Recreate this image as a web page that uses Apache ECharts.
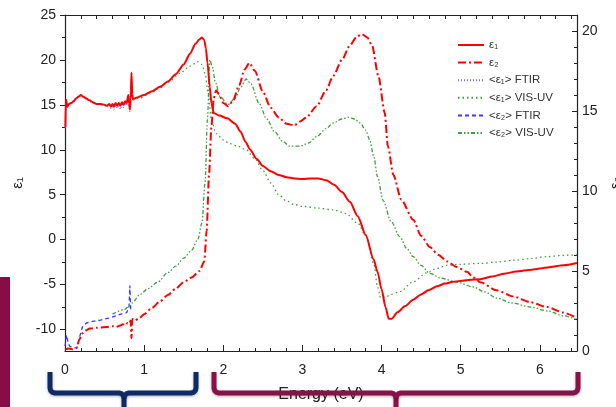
<!DOCTYPE html>
<html>
<head>
<meta charset="utf-8">
<script src="https://cdn.jsdelivr.net/npm/echarts@6/dist/echarts.min.js"></script>
<style>html,body{margin:0;padding:0;background:#fff;}#c{width:616px;height:407px;}</style>
</head>
<body>
<div id="c"></div>
<script>
// ---- tick labels ----
const xTickLabels = [0, 1, 2, 3, 4, 5, 6];
const leftTickLabels = [-10, -5, 0, 5, 10, 15, 20, 25];
const rightTickLabels = [0, 5, 10, 15, 20];
const legendNames = ['ε₁', 'ε₂', '<ε₁> FTIR', '<ε₁> VIS-UV', '<ε₂> FTIR', '<ε₂> VIS-UV'];

// ---- series values [energy eV, value] ----
const eps1 = [[0.005,12.5],[0.012,15.6],[0.03,14.8],[0.05,15.1],[0.08,15.2],[0.11,15.4],[0.14,15.7],[0.17,15.9],[0.2,16.1],[0.23,15.9],[0.27,15.7],[0.31,15.5],[0.35,15.3],[0.4,15.1],[0.45,15.1],[0.5,15.0],[0.53,14.9],[0.56,15.1],[0.58,14.8],[0.6,15.1],[0.62,14.8],[0.64,15.2],[0.66,14.9],[0.68,15.2],[0.7,14.9],[0.72,15.3],[0.74,15.0],[0.76,15.4],[0.78,15.2],[0.8,16.1],[0.81,15.2],[0.82,14.5],[0.83,15.6],[0.84,18.6],[0.85,16.2],[0.86,15.6],[0.9,15.8],[1.0,16.1],[1.1,16.5],[1.2,17.0],[1.3,17.6],[1.4,18.4],[1.5,19.5],[1.58,20.7],[1.65,21.8],[1.7,22.3],[1.73,22.5],[1.76,22.2],[1.78,21.3],[1.8,19.7],[1.83,17.0],[1.85,15.2],[1.88,14.1],[1.95,13.8],[2.05,13.5],[2.15,12.9],[2.22,12.0],[2.28,10.9],[2.34,10.0],[2.42,9.0],[2.5,8.2],[2.6,7.6],[2.7,7.2],[2.8,6.95],[2.9,6.8],[3.0,6.75],[3.1,6.8],[3.2,6.8],[3.3,6.6],[3.4,6.1],[3.5,5.3],[3.6,4.2],[3.7,2.6],[3.8,0.5],[3.9,-2.2],[3.95,-3.6],[4.0,-5.5],[4.05,-7.5],[4.09,-8.8],[4.13,-8.8],[4.2,-8.1],[4.3,-7.4],[4.4,-6.7],[4.5,-6.1],[4.6,-5.6],[4.7,-5.2],[4.8,-4.9],[4.9,-4.7],[5.0,-4.6],[5.1,-4.5],[5.25,-4.4],[5.4,-4.1],[5.55,-3.8],[5.7,-3.55],[5.9,-3.35],[6.1,-3.1],[6.3,-2.85],[6.47,-2.6]];

const eps2 = [[0.0,0.1],[0.05,0.15],[0.1,0.1],[0.15,0.2],[0.18,0.7],[0.22,1.1],[0.27,1.3],[0.31,1.4],[0.4,1.45],[0.52,1.5],[0.6,1.55],[0.65,1.5],[0.7,1.6],[0.73,1.67],[0.76,1.6],[0.79,1.75],[0.81,1.7],[0.83,1.9],[0.84,0.8],[0.85,2.0],[0.88,1.9],[0.94,2.05],[1.0,2.3],[1.1,2.7],[1.2,3.1],[1.3,3.5],[1.4,3.9],[1.5,4.3],[1.6,4.6],[1.7,5.0],[1.76,5.6],[1.79,7.5],[1.82,11],[1.85,14],[1.88,15.8],[1.91,16.3],[1.95,16.0],[2.0,15.5],[2.06,15.3],[2.12,15.6],[2.2,16.6],[2.27,17.6],[2.33,18.0],[2.4,17.5],[2.5,16.2],[2.6,15.2],[2.7,14.6],[2.8,14.2],[2.9,14.1],[2.97,14.35],[3.05,14.6],[3.18,15.3],[3.3,16.3],[3.39,17.2],[3.5,18.2],[3.6,19.1],[3.68,19.6],[3.75,19.8],[3.82,19.6],[3.88,19.1],[3.96,17.2],[4.04,14.9],[4.08,12.8],[4.15,11.0],[4.25,9.45],[4.4,8.2],[4.5,7.2],[4.61,6.5],[4.72,6.0],[4.83,5.6],[4.95,5.25],[5.08,4.95],[5.16,4.6],[5.25,4.3],[5.45,3.8],[5.67,3.4],[5.88,3.05],[6.09,2.75],[6.3,2.4],[6.47,2.05]];

const eps1FTIR = [[0.003,12.4],[0.01,15.4],[0.03,14.9],[0.05,15.0],[0.08,15.3],[0.11,15.5],[0.14,15.7],[0.17,16.0],[0.2,16.0],[0.23,15.9],[0.27,15.6],[0.31,15.4],[0.35,15.2],[0.4,15.1],[0.45,15.0],[0.5,14.9],[0.53,14.8],[0.56,15.0],[0.58,14.6],[0.6,15.0],[0.62,14.5],[0.64,15.1],[0.66,14.6],[0.68,15.0],[0.7,14.5],[0.72,15.2],[0.74,14.7],[0.76,15.2],[0.78,14.9],[0.8,15.8],[0.81,15.0],[0.82,14.2],[0.83,15.4],[0.84,18.3],[0.85,15.9],[0.86,15.5]];

const eps2FTIR = [[0.0,0.3],[0.02,1.0],[0.04,0.5],[0.06,0.3],[0.1,0.2],[0.15,0.2],[0.18,0.8],[0.22,1.5],[0.27,1.75],[0.35,1.85],[0.44,1.92],[0.55,2.05],[0.65,2.2],[0.73,2.35],[0.78,2.4],[0.81,2.8],[0.82,4.1],[0.83,2.6],[0.85,2.6]];

const eps1VIS = [[0.85,15.6],[0.94,15.75],[1.1,16.4],[1.2,16.9],[1.3,17.5],[1.45,18.5],[1.58,19.3],[1.68,19.8],[1.73,19.5],[1.77,18.5],[1.81,16.3],[1.85,13.3],[1.91,11.8],[2.0,11.1],[2.08,10.7],[2.18,10.4],[2.29,10.0],[2.4,9.0],[2.5,7.7],[2.6,6.3],[2.7,5.0],[2.8,4.3],[2.9,3.9],[3.0,3.7],[3.2,3.5],[3.4,3.3],[3.55,2.9],[3.7,1.8],[3.8,0.5],[3.9,-2.6],[3.95,-5.3],[3.99,-6.5],[4.05,-6.4],[4.12,-6.1],[4.23,-5.8],[4.4,-4.7],[4.57,-3.7],[4.7,-3.2],[4.83,-2.85],[5.0,-2.75],[5.25,-2.65],[5.45,-2.5],[5.67,-2.3],[5.9,-2.1],[6.09,-1.9],[6.3,-1.75],[6.47,-1.7]];

const eps2VIS = [[0.6,2.3],[0.75,2.6],[0.85,3.0],[0.94,3.5],[1.05,3.9],[1.17,4.3],[1.3,4.9],[1.4,5.3],[1.5,5.8],[1.6,6.3],[1.68,7.0],[1.73,8.0],[1.77,10.5],[1.8,14.5],[1.83,18.2],[1.86,17.8],[1.9,16.8],[1.96,15.9],[2.06,15.4],[2.15,15.8],[2.22,16.5],[2.29,17.0],[2.35,16.7],[2.45,15.5],[2.55,14.5],[2.65,13.7],[2.75,13.1],[2.84,12.8],[2.97,12.8],[3.08,13.0],[3.18,13.4],[3.3,13.9],[3.39,14.25],[3.5,14.5],[3.58,14.6],[3.66,14.5],[3.73,14.25],[3.8,13.8],[3.85,13.2],[3.9,12.2],[3.95,10.9],[4.02,9.4],[4.12,8.1],[4.23,7.15],[4.32,6.4],[4.4,5.9],[4.5,5.35],[4.61,4.85],[4.75,4.55],[4.95,4.3],[5.16,4.0],[5.3,3.7],[5.46,3.3],[5.65,3.0],[5.88,2.75],[6.1,2.5],[6.3,2.2],[6.47,1.95]];

// ---- axis extents ----
const xMin = 0, xMax = 6.47;
const leftMin = -12.4, leftMax = 25;
const rightMin = 0, rightMax = 21;

const xMinor = [];
for (let v = 0.2; v < xMax; v += 0.2) xMinor.push(+v.toFixed(2));
const leftMinor = [];
for (let v = -7.5; v < leftMax; v += 5) leftMinor.push(v);
const rightMinor = [];
for (let v = 1; v < rightMax; v += 1) if (v % 5 !== 0) rightMinor.push(v);

const FONT = 'Liberation Sans, Arial, DejaVu Sans, sans-serif';
const AX = '#222';

// brace outline (decoration) built from left x, center x, right x
function braceHalves(x0, xc, x1, yTop, yBar, yEnd) {
  const r = 5;
  const a = [[x0, yTop], [x0, yBar - r], [x0 + 0.7, yBar - 2.3], [x0 + 2.5, yBar - 0.7], [x0 + r, yBar],
             [xc - r, yBar], [xc - 2.5, yBar + 0.7], [xc - 0.7, yBar + 2.5], [xc, yBar + r], [xc, yEnd]];
  const b = [[xc, yBar + r], [xc + 0.7, yBar + 2.5], [xc + 2.5, yBar + 0.7], [xc + r, yBar],
             [x1 - r, yBar], [x1 - 2.5, yBar - 0.7], [x1 - 0.7, yBar - 2.3], [x1, yBar - r], [x1, yTop]];
  return [a, b];
}
function braceGraphics(x0, xc, x1, color) {
  return braceHalves(x0, xc, x1, 372, 393, 408).map(pts => ({
    type: 'polyline', z: 100, shape: {points: pts},
    style: {fill: null, stroke: color, lineWidth: 5, lineJoin: 'round',
            shadowBlur: 3, shadowColor: 'rgba(0,0,0,0.3)', shadowOffsetY: 1}
  }));
}

const chart = echarts.init(document.getElementById('c'), null, {renderer: 'canvas'});
const grid = {left: 65, right: 39, top: 15, bottom: 56, containLabel: false, outerBoundsMode: 'none'};

function hiddenAxisBase() {
  return {axisLine: {show: false, onZero: false}, axisLabel: {show: false}, splitLine: {show: false}};
}

const option = {
  backgroundColor: '#fff',
  animation: false,
  grid: grid,
  legend: {
    orient: 'vertical', left: 457, top: 39, padding: 0,
    itemWidth: 26, itemHeight: 10, itemGap: 5.6,
    itemStyle: {opacity: 0},
    data: legendNames,
    textStyle: {fontFamily: FONT, fontSize: 11.5, color: '#333', lineHeight: 12}
  },
  xAxis: [
    {type: 'value', min: xMin, max: xMax, position: 'bottom',
     axisLine: {onZero: false, lineStyle: {color: AX, width: 1.2}},
     axisTick: {inside: true, length: 6, customValues: xTickLabels, lineStyle: {color: AX}},
     axisLabel: {customValues: xTickLabels, margin: 12, fontFamily: FONT, fontSize: 14, color: AX},
     splitLine: {show: false},
     name: 'Energy (eV)', nameLocation: 'middle', nameGap: 36,
     nameTextStyle: {fontFamily: FONT, fontSize: 16, color: AX}},
    Object.assign({type: 'value', min: xMin, max: xMax, position: 'bottom',
     axisTick: {inside: true, length: 3, customValues: xMinor, lineStyle: {color: AX}}}, hiddenAxisBase()),
    {type: 'value', min: xMin, max: xMax, position: 'top',
     axisLine: {onZero: false, lineStyle: {color: AX, width: 1.2}},
     axisTick: {inside: true, length: 4, customValues: xTickLabels.concat(xMinor), lineStyle: {color: AX}},
     axisLabel: {show: false}, splitLine: {show: false}}
  ],
  yAxis: [
    {type: 'value', min: leftMin, max: leftMax, position: 'left',
     axisLine: {show: true, onZero: false, lineStyle: {color: AX, width: 1.2}},
     axisTick: {show: true, inside: false, length: 5, customValues: leftTickLabels, lineStyle: {color: AX}},
     axisLabel: {customValues: leftTickLabels, margin: 9, fontFamily: FONT, fontSize: 14, color: AX},
     splitLine: {show: false},
     name: 'ε₁', nameLocation: 'middle', nameGap: 37, nameRotate: 90,
     nameTextStyle: {fontFamily: FONT, fontSize: 15, color: AX}},
    {type: 'value', min: rightMin, max: rightMax, position: 'right',
     axisLine: {show: true, onZero: false, lineStyle: {color: AX, width: 1.2}},
     axisTick: {show: true, inside: true, length: 5, customValues: rightTickLabels, lineStyle: {color: AX}},
     axisLabel: {customValues: rightTickLabels, margin: 5, fontFamily: FONT, fontSize: 14, color: AX},
     splitLine: {show: false},
     name: 'ε₂', nameLocation: 'middle', nameGap: 31, nameRotate: 90,
     nameTextStyle: {fontFamily: FONT, fontSize: 15, color: AX}},
    Object.assign({type: 'value', min: leftMin, max: leftMax, position: 'left',
     axisTick: {show: true, inside: false, length: 3, customValues: leftMinor, lineStyle: {color: AX}}}, hiddenAxisBase()),
    Object.assign({type: 'value', min: rightMin, max: rightMax, position: 'right',
     axisTick: {show: true, inside: true, length: 3, customValues: rightMinor, lineStyle: {color: AX}}}, hiddenAxisBase())
  ],
  graphic: [
    {type: 'rect', z: 100, shape: {x: 0, y: 277, width: 10, height: 130}, style: {fill: '#8a0c45'}}
  ].concat(braceGraphics(50, 124, 196, '#0d2b66'), braceGraphics(214, 396, 578, '#8b1047')),
  series: [
    {name: '<ε₁> FTIR', type: 'line', xAxisIndex: 0, yAxisIndex: 0, data: eps1FTIR, symbol: 'none',
     lineStyle: {color: '#7070ff', width: 1.3, type: [1, 2]}, itemStyle: {color: '#7070ff'}},
    {name: '<ε₂> FTIR', type: 'line', xAxisIndex: 0, yAxisIndex: 1, data: eps2FTIR, symbol: 'none',
     lineStyle: {color: '#3a3aff', width: 1.3, type: [4, 3]}, itemStyle: {color: '#3a3aff'}},
    {name: '<ε₁> VIS-UV', type: 'line', xAxisIndex: 0, yAxisIndex: 0, data: eps1VIS, symbol: 'none',
     smooth: 0.3, smoothMonotone: 'x',
     lineStyle: {color: '#3f9f3f', width: 1.3, type: [1.5, 3]}, itemStyle: {color: '#3f9f3f'}},
    {name: '<ε₂> VIS-UV', type: 'line', xAxisIndex: 0, yAxisIndex: 1, data: eps2VIS, symbol: 'none',
     smooth: 0.3, smoothMonotone: 'x',
     lineStyle: {color: '#3f9f3f', width: 1.3, type: [4, 2, 1.5, 2, 1.5, 2]}, itemStyle: {color: '#3f9f3f'}},
    {name: 'ε₂', type: 'line', xAxisIndex: 0, yAxisIndex: 1, data: eps2, symbol: 'none',
     smooth: 0.25, smoothMonotone: 'x',
     lineStyle: {color: '#ff0000', width: 2, type: [8, 3, 2, 3]}, itemStyle: {color: '#ff0000'}},
    {name: 'ε₁', type: 'line', xAxisIndex: 0, yAxisIndex: 0, data: eps1, symbol: 'none',
     smooth: 0.25, smoothMonotone: 'x',
     lineStyle: {color: '#ff0000', width: 2}, itemStyle: {color: '#ff0000'}}
  ]
};
chart.setOption(option);
</script>
</body>
</html>
